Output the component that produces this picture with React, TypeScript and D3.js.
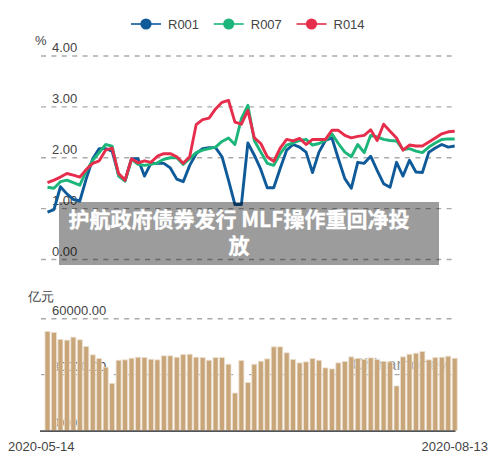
import * as d3 from "d3";

const WIDTH = 500;
const HEIGHT = 468;

const r001 = [
  0.93, 0.98, 1.43, 1.29, 1.18, 1.15, 1.59, 1.98, 2.18, 2.18, 2.13, 1.66, 1.55, 1.98, 1.98, 1.64,
  1.89, 1.89, 1.89, 1.8, 1.58, 1.53, 1.85, 2.08, 2.18, 2.2, 2.2, 2.02, 1.56, 1.08, 1.08, 2.29,
  2.05, 1.77, 1.41, 1.41, 1.79, 2.15, 2.26, 2.21, 2.11, 1.71, 2.11, 2.34, 2.39, 1.98, 1.59, 1.4,
  1.91, 1.89, 2.03, 1.75, 1.49, 1.42, 1.91, 1.64, 1.95, 1.72, 1.71, 2.11, 2.19, 2.26, 2.21, 2.23,
];
const r007 = [
  1.42, 1.4, 1.53, 1.56, 1.51, 1.46, 1.74, 1.95, 2.1, 2.26, 2.23, 1.64, 1.54, 1.97, 1.87, 1.85,
  1.87, 1.9, 1.97, 2.0, 2.0, 1.87, 1.98, 2.1, 2.15, 2.18, 2.21, 2.32, 2.39, 2.26, 2.77, 3.03,
  2.34, 2.11, 1.89, 1.85, 2.08, 2.25, 2.29, 2.34, 2.36, 2.25, 2.28, 2.34, 2.47, 2.28, 2.11, 2.02,
  2.26, 2.1, 2.44, 2.41, 2.36, 2.34, 2.33, 2.16, 2.18, 2.13, 2.1, 2.21, 2.29, 2.36, 2.37, 2.37,
];
const r014 = [
  1.51, 1.56, 1.62, 1.69, 1.66, 1.62, 1.77, 1.89, 1.94, 2.15, 2.19, 1.69, 1.56, 1.98, 1.9, 1.94,
  1.91, 2.03, 2.08, 2.08, 2.02, 1.89, 2.02, 2.65, 2.75, 2.78, 2.96, 3.09, 3.13, 2.7, 2.66, 2.93,
  2.39, 2.28, 2.02, 1.93, 2.19, 2.36, 2.33, 2.38, 2.26, 2.36, 2.36, 2.36, 2.54, 2.54, 2.44, 2.39,
  2.42, 2.44, 2.55, 2.34, 2.66, 2.52, 2.39, 2.15, 2.25, 2.23, 2.23, 2.31, 2.39, 2.47, 2.51, 2.52,
];
const volume = [
  53170, 52620, 48850, 48500, 50100, 48670, 45080, 40590, 38610, 33950, 25320, 37720, 37900, 38800, 39330, 39150,
  38250, 37900, 40050, 40050, 39330, 40770, 40950, 39330, 39150, 37720, 39150, 39150, 35560, 20120, 37540, 25680,
  35560, 37180, 38430, 44900, 44900, 41670, 38080, 36280, 36820, 38610, 37720, 33590, 33050, 36280, 37000, 39510,
  38610, 38250, 38970, 38080, 37000, 36820, 23890, 39510, 40950, 41490, 42390, 37900, 39150, 39330, 39870, 38790,
];

const rateTicks = [0, 1, 2, 3, 4];
const volumeTicks = [0, 30000, 60000];
const dateLabels = ["2020-05-14", "2020-08-13"];
const titleLines = ["护航政府债券发行 MLF操作重回净投", "放"];

const seriesList = [
  { name: "R001", values: r001, color: "#0f5a99" },
  { name: "R007", values: r007, color: "#1db67a" },
  { name: "R014", values: r014, color: "#e62d4b" },
];
const legendX = d3.scalePoint<string>().domain(seriesList.map((s) => s.name)).range([146, 311.5]);

const FONT = "'Liberation Sans', Arial, sans-serif";
const TICK_COLOR = "#444";

const indexes = d3.range(volume.length);
const x = d3.scalePoint<number>().domain(indexes).range([47.5, 454.7]);
const yRate = d3.scaleLinear().domain([0, 4]).range([259.5, 56]);
const yVolume = d3.scaleLinear().domain([0, 60000]).range([430.5, 318.7]);

const rateLine = d3
  .line<number>()
  .x((_, i) => x(i) as number)
  .y((d) => yRate(d));

function GridLine({ y }: { y: number }) {
  return <line x1={41} x2={454} y1={y} y2={y} stroke="#aaa" strokeWidth={1.4} strokeDasharray="5 5.4" />;
}

export default function App() {
  return (
    <svg
      width={WIDTH}
      height={HEIGHT}
      viewBox={`0 0 ${WIDTH} ${HEIGHT}`}
      style={{ position: "absolute", left: 0, top: 0, display: "block", background: "#fff" }}
      fontFamily={FONT}
    >
      {/* legend */}
      {seriesList.map((s) => {
        const cx = legendX(s.name) as number;
        return (
          <g key={s.name}>
            <line x1={cx - 15} x2={cx + 15} y1={24} y2={24} stroke={s.color} strokeWidth={2} opacity={0.8} />
            <circle cx={cx} cy={24} r={5.6} fill={s.color} />
            <text x={cx + 22} y={28.5} fontSize={13} fill={TICK_COLOR}>
              {s.name}
            </text>
          </g>
        );
      })}

      {/* upper panel */}
      <text x={35} y={45} fontSize={13} fill={TICK_COLOR}>
        %
      </text>
      {rateTicks.map((t) => (
        <g key={t}>
          <GridLine y={yRate(t)} />
          <text x={52} y={yRate(t) - 4} fontSize={13} fill={TICK_COLOR}>
            {d3.format(".2f")(t)}
          </text>
        </g>
      ))}
      {seriesList.map((s) => (
        <path key={s.name} d={rateLine(s.values) as string} fill="none" stroke={s.color} strokeWidth={2.9} strokeLinejoin="round" />
      ))}

      {/* lower panel */}
      <text x={28} y={301} fontSize={13} fill={TICK_COLOR}>
        亿元
      </text>
      {volumeTicks.map((t) => (
        <g key={t}>
          {t > 0 && <GridLine y={yVolume(t)} />}
          <text x={52} y={yVolume(t) - 4} fontSize={13} fill={TICK_COLOR}>
            {d3.format(".2f")(t)}
          </text>
        </g>
      ))}
      <text x={352} y={370} fontSize={17} fill="#999">
        Chinamoney
      </text>
      {volume.map((v, i) => (
        <rect
          key={i}
          x={(x(i) as number) - 2.5}
          y={yVolume(v)}
          width={5}
          height={yVolume(0) - yVolume(v)}
          fill="#c8a679"
          stroke="#ecdfcf"
          strokeWidth={0.8}
        />
      ))}
      <line x1={40} x2={455.5} y1={yVolume(0) + 0.6} y2={yVolume(0) + 0.6} stroke="#555" strokeWidth={1.6} />
      <text x={8} y={451} fontSize={13} fill={TICK_COLOR}>
        {dateLabels[0]}
      </text>
      <text x={488} y={451} fontSize={13} fill={TICK_COLOR} textAnchor="end">
        {dateLabels[1]}
      </text>

      {/* title banner */}
      <rect x={59} y={202} width={380} height={63} fill="#000" opacity={0.39} />
      {titleLines.map((line, i) => (
        <text
          key={i}
          x={239}
          y={226.5 + i * 26}
          fontSize={21}
          fontWeight={700}
          fill="#fff"
          stroke="#fff"
          strokeWidth={0.35}
          textAnchor="middle"
          fontFamily="'Noto Sans CJK SC', 'Noto Sans', sans-serif"
        >
          {line}
        </text>
      ))}
    </svg>
  );
}
